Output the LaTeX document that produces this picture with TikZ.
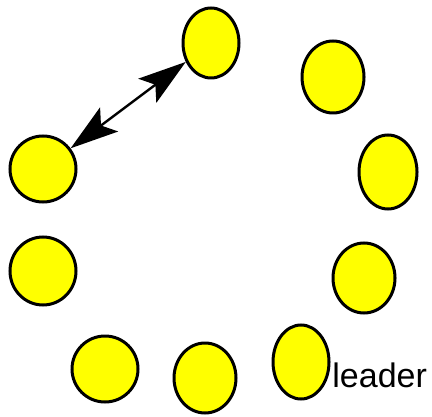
\documentclass[tikz,border=0pt]{standalone}
\usepackage{fontspec}
\setmainfont{Liberation Sans}
\usepackage{tikz}
\usetikzlibrary{positioning,arrows.meta,shapes.geometric}
\definecolor{cyel}{HTML}{FFFF00}
\tikzset{
 proc/.style={ellipse, draw=black, fill=cyel, line width=1.5pt, inner sep=0pt},
 lnk/.style={draw=black, line width=1.2pt},
}

\begin{document}
\begin{tikzpicture}[x=0.5pt, y=-0.5pt, >={Stealth[length=24pt,width=15pt,inset=5pt]}]
 \useasboundingbox (0,0) rectangle (432,416);
 \node[proc, minimum width=28pt, minimum height=35pt] (p1) at (211,43) {};
 \node[proc, minimum width=31pt, minimum height=36pt] (p2) at (333,77) {};
 \node[proc, minimum width=29pt, minimum height=37pt] (p3) at (388,172) {};
 \node[proc, minimum width=31pt, minimum height=35pt] (p4) at (364,278) {};
 \node[proc, minimum width=28pt, minimum height=37pt] (ldr) at (301,362) {};
 \node[proc, minimum width=31pt, minimum height=35pt] (p6) at (205,378) {};
 \node[proc, minimum width=33pt, minimum height=33pt] (p7) at (105,369) {};
 \node[proc, minimum width=33pt, minimum height=34pt] (p8) at (43,271) {};
 \node[proc, minimum width=33pt, minimum height=33pt] (p9) at (43,169) {};
 \node[anchor=base west, inner sep=0pt, font=\fontsize{17}{20}\selectfont] (lbl) at (332,387) {leader};

 \draw[lnk, <->] (p9) -- (p1);
\end{tikzpicture}
\end{document}
